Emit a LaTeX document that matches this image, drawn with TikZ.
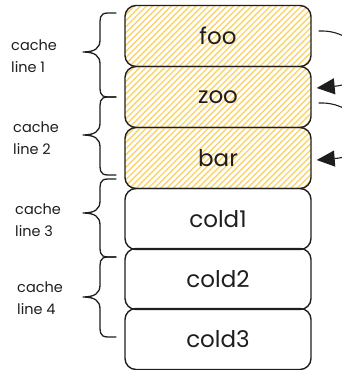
\documentclass[tikz,border=0pt]{standalone}
\usepackage{fontspec}
\setmainfont{Poppins}
\usetikzlibrary{arrows.meta,calc}
\definecolor{ink}{HTML}{1E1E1E}
\definecolor{hatch}{HTML}{FAD46A}
\tikzset{
  cell/.style={draw=ink, line width=1.4pt, rounded corners=11pt, minimum width=186pt, minimum height=61pt, inner sep=0pt, font=\fontsize{23}{26}\selectfont, text=ink},
  hot/.style={cell, path picture={
      \foreach \i in {-70,-63.8,...,200}{
        \draw[hatch, line width=1.4pt] ($(path picture bounding box.south west)+(\i,0)$) -- ++(72,-72);
      }}},
  lbl/.style={anchor=west, align=left, font=\fontsize{14.5}{22}\selectfont, text=ink, inner sep=0pt},
  brc/.style={draw=ink, line width=1.3pt, line cap=round, line join=round},
  link/.style={draw=ink, line width=1.1pt},
  linkarr/.style={link, -{Triangle[length=18pt,width=16pt]}}
}
\begin{document}
\begin{tikzpicture}[x=1pt,y=-1pt]
\useasboundingbox (0,0) rectangle (342,370);
\clip (0,0) rectangle (342,370);
\node[hot]  (foo)   at (218,36)  {foo};
\node[hot]  (zoo)   at (218,97)  {zoo};
\node[hot]  (bar)   at (218,158) {bar};
\node[cell] (cold1) at (218,219) {cold1};
\node[cell] (cold2) at (218,279) {cold2};
\node[cell] (cold3) at (218,339) {cold3};
% labels
\node[lbl] (l1) at (11,56)  {cache\\line 1};
\node[lbl] (l2) at (13,138) {cache\\line 2};
\node[lbl] (l3) at (15,220) {cache\\line 3};
\node[lbl] (l4) at (17,298) {cache\\line 4};
% braces: top, tip, bottom
\foreach \t/\m/\b in {13/52/97, 97/135/175, 179/213/257, 257/297/337}{
  \draw[brc] (116,\t) -- (108,\t) .. controls (99,\t) and (100,\t+6) .. (100,\t+14)
     -- (100,\m-12) .. controls (100,\m-4) and (95,\m) .. (83,\m)
     .. controls (95,\m) and (100,\m+4) .. (100,\m+12)
     -- (100,\b-14) .. controls (100,\b-6) and (99,\b) .. (108,\b) -- (116,\b);
}
% connectors
\coordinate (s1) at ($(foo.east)+(7,-5)$);
\coordinate (e1) at ($(zoo.east)+(5,-9)$);
\coordinate (s2) at ($(zoo.east)+(7,6)$);
\coordinate (e2) at ($(bar.east)+(5,2)$);
\draw[linkarr] (s1) .. controls (365,29) and (380,82) .. (e1);
\draw[linkarr] (s2) .. controls (365,101) and (380,155) .. (e2);
\end{tikzpicture}
\end{document}
